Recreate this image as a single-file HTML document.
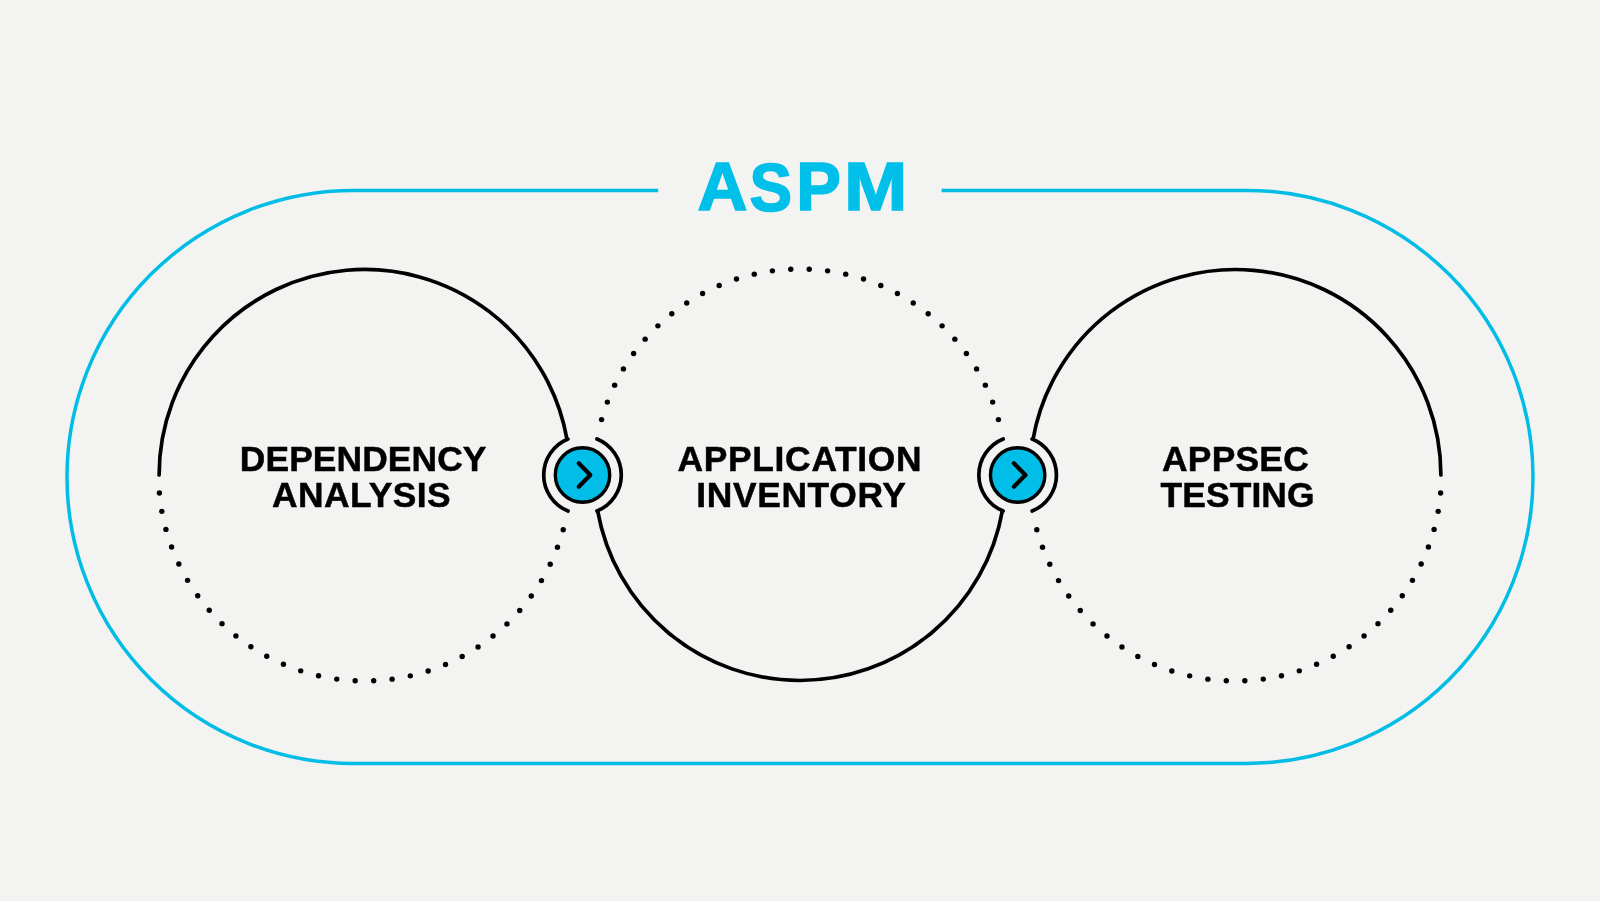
<!DOCTYPE html>
<html><head><meta charset="utf-8"><style>
html,body{margin:0;padding:0;background:#f3f3f1;}
body{width:1600px;height:901px;overflow:hidden;}
svg{display:block;will-change:transform;}
text{font-family:"Liberation Sans",sans-serif;font-weight:700;}
</style></head><body>
<svg width="1600" height="901" viewBox="0 0 1600 901">
<path d="M658.20,190.40 L353.50,190.40 A286.50,286.50 0 0 0 353.50,763.40 L1246.50,763.40 A286.50,286.50 0 0 0 1246.50,190.40 L941.60,190.40" fill="none" stroke="#00bde6" stroke-width="3.5" stroke-linecap="butt"/>
<path d="M159.10,475.00 A205.5,205.5 0 0 1 566.96,439.19 L568.03,439.00 A38.8,38.8 0 0 0 568.03,511.00" fill="none" stroke="#000" stroke-width="3.7" stroke-linecap="round" stroke-linejoin="round"/>
<path d="M596.97,439.00 A38.8,38.8 0 0 1 596.97,511.00 L597.66,510.88 A205.5,205.5 0 0 0 1002.35,510.85 L1003.18,511.00 A38.8,38.8 0 0 1 1003.18,439.00" fill="none" stroke="#000" stroke-width="3.7" stroke-linecap="round" stroke-linejoin="round"/>
<path d="M1032.12,511.00 A38.8,38.8 0 0 0 1032.12,439.00 L1033.05,439.16 A205.5,205.5 0 0 1 1440.90,475.00" fill="none" stroke="#000" stroke-width="3.7" stroke-linecap="round" stroke-linejoin="round"/>
<g fill="#000"><circle cx="563.20" cy="529.70" r="2.7"/><circle cx="557.49" cy="547.30" r="2.7"/><circle cx="550.23" cy="564.32" r="2.7"/><circle cx="541.46" cy="580.62" r="2.7"/><circle cx="531.27" cy="596.06" r="2.7"/><circle cx="519.74" cy="610.53" r="2.7"/><circle cx="506.95" cy="623.90" r="2.7"/><circle cx="493.02" cy="636.07" r="2.7"/><circle cx="478.05" cy="646.95" r="2.7"/><circle cx="462.16" cy="656.43" r="2.7"/><circle cx="445.49" cy="664.46" r="2.7"/><circle cx="428.16" cy="670.95" r="2.7"/><circle cx="410.32" cy="675.86" r="2.7"/><circle cx="392.12" cy="679.15" r="2.7"/><circle cx="373.69" cy="680.80" r="2.7"/><circle cx="355.18" cy="680.78" r="2.7"/><circle cx="336.76" cy="679.11" r="2.7"/><circle cx="318.55" cy="675.79" r="2.7"/><circle cx="300.72" cy="670.85" r="2.7"/><circle cx="283.41" cy="664.32" r="2.7"/><circle cx="266.75" cy="656.28" r="2.7"/><circle cx="250.88" cy="646.76" r="2.7"/><circle cx="235.92" cy="635.87" r="2.7"/><circle cx="222.01" cy="623.67" r="2.7"/><circle cx="209.24" cy="610.28" r="2.7"/><circle cx="197.73" cy="595.79" r="2.7"/><circle cx="187.57" cy="580.33" r="2.7"/><circle cx="178.83" cy="564.02" r="2.7"/><circle cx="171.59" cy="546.99" r="2.7"/><circle cx="165.91" cy="529.39" r="2.7"/><circle cx="161.83" cy="511.34" r="2.7"/><circle cx="159.39" cy="493.00" r="2.7"/><circle cx="998.41" cy="419.60" r="2.7"/><circle cx="992.66" cy="402.08" r="2.7"/><circle cx="985.37" cy="385.14" r="2.7"/><circle cx="976.59" cy="368.92" r="2.7"/><circle cx="966.39" cy="353.56" r="2.7"/><circle cx="954.87" cy="339.16" r="2.7"/><circle cx="942.10" cy="325.85" r="2.7"/><circle cx="928.19" cy="313.74" r="2.7"/><circle cx="913.25" cy="302.93" r="2.7"/><circle cx="897.41" cy="293.49" r="2.7"/><circle cx="880.79" cy="285.50" r="2.7"/><circle cx="863.52" cy="279.04" r="2.7"/><circle cx="845.74" cy="274.14" r="2.7"/><circle cx="827.59" cy="270.86" r="2.7"/><circle cx="809.22" cy="269.21" r="2.7"/><circle cx="790.78" cy="269.21" r="2.7"/><circle cx="772.41" cy="270.86" r="2.7"/><circle cx="754.26" cy="274.14" r="2.7"/><circle cx="736.48" cy="279.04" r="2.7"/><circle cx="719.21" cy="285.50" r="2.7"/><circle cx="702.59" cy="293.49" r="2.7"/><circle cx="686.75" cy="302.93" r="2.7"/><circle cx="671.81" cy="313.74" r="2.7"/><circle cx="657.90" cy="325.85" r="2.7"/><circle cx="645.13" cy="339.16" r="2.7"/><circle cx="633.61" cy="353.56" r="2.7"/><circle cx="623.41" cy="368.92" r="2.7"/><circle cx="614.63" cy="385.14" r="2.7"/><circle cx="607.34" cy="402.08" r="2.7"/><circle cx="601.59" cy="419.60" r="2.7"/><circle cx="1036.80" cy="529.70" r="2.7"/><circle cx="1042.51" cy="547.30" r="2.7"/><circle cx="1049.77" cy="564.32" r="2.7"/><circle cx="1058.54" cy="580.62" r="2.7"/><circle cx="1068.73" cy="596.06" r="2.7"/><circle cx="1080.26" cy="610.53" r="2.7"/><circle cx="1093.05" cy="623.90" r="2.7"/><circle cx="1106.98" cy="636.07" r="2.7"/><circle cx="1121.95" cy="646.95" r="2.7"/><circle cx="1137.84" cy="656.43" r="2.7"/><circle cx="1154.51" cy="664.46" r="2.7"/><circle cx="1171.84" cy="670.95" r="2.7"/><circle cx="1189.68" cy="675.86" r="2.7"/><circle cx="1207.88" cy="679.15" r="2.7"/><circle cx="1226.31" cy="680.80" r="2.7"/><circle cx="1244.82" cy="680.78" r="2.7"/><circle cx="1263.24" cy="679.11" r="2.7"/><circle cx="1281.45" cy="675.79" r="2.7"/><circle cx="1299.28" cy="670.85" r="2.7"/><circle cx="1316.59" cy="664.32" r="2.7"/><circle cx="1333.25" cy="656.28" r="2.7"/><circle cx="1349.12" cy="646.76" r="2.7"/><circle cx="1364.08" cy="635.87" r="2.7"/><circle cx="1377.99" cy="623.67" r="2.7"/><circle cx="1390.76" cy="610.28" r="2.7"/><circle cx="1402.27" cy="595.79" r="2.7"/><circle cx="1412.43" cy="580.33" r="2.7"/><circle cx="1421.17" cy="564.02" r="2.7"/><circle cx="1428.41" cy="546.99" r="2.7"/><circle cx="1434.09" cy="529.39" r="2.7"/><circle cx="1438.17" cy="511.34" r="2.7"/><circle cx="1440.61" cy="493.00" r="2.7"/></g>
<circle cx="582.50" cy="475.00" r="27.2" fill="#00bee8" stroke="#000" stroke-width="3.4"/>
<path d="M578.75,463.30 L590.30,475.00 L578.75,486.70" fill="none" stroke="#000" stroke-width="4.2" stroke-linecap="round" stroke-linejoin="round"/>
<circle cx="1017.65" cy="475.00" r="27.2" fill="#00bee8" stroke="#000" stroke-width="3.4"/>
<path d="M1013.90,463.30 L1025.45,475.00 L1013.90,486.70" fill="none" stroke="#000" stroke-width="4.2" stroke-linecap="round" stroke-linejoin="round"/>
<text transform="translate(697.5,210.3) scale(1.0172,1)" fill="#00bfe8" stroke="#00bfe8" stroke-width="1.6" font-size="68" letter-spacing="0">A</text>
<text transform="translate(749.5,211.0) scale(0.9384,1)" fill="#00bfe8" stroke="#00bfe8" stroke-width="1.6" font-size="68" letter-spacing="0">S</text>
<text transform="translate(796.2,210.3) scale(0.9854,1)" fill="#00bfe8" stroke="#00bfe8" stroke-width="1.6" font-size="68" letter-spacing="0">P</text>
<text transform="translate(843.9,210.3) scale(1.1184,1)" fill="#00bfe8" stroke="#00bfe8" stroke-width="1.6" font-size="68" letter-spacing="0">M</text>
<text transform="translate(239.8,471.0)" fill="#000" stroke="#000" stroke-width="0.5" font-size="35.4" letter-spacing="0.088">DEPENDENCY</text>
<text transform="translate(272.1,507.4)" fill="#000" stroke="#000" stroke-width="0.5" font-size="35.4" letter-spacing="0.4">ANALYSIS</text>
<text transform="translate(677.4,471.0)" fill="#000" stroke="#000" stroke-width="0.5" font-size="35.4" letter-spacing="0.7">APPLICATION</text>
<text transform="translate(696.2,507.4)" fill="#000" stroke="#000" stroke-width="0.5" font-size="35.4" letter-spacing="0.65">INVENTORY</text>
<text transform="translate(1162.0,471.0)" fill="#000" stroke="#000" stroke-width="0.5" font-size="35.4" letter-spacing="0.24">APPSEC</text>
<text transform="translate(1160.4,507.4)" fill="#000" stroke="#000" stroke-width="0.5" font-size="35.4" letter-spacing="0.133">TESTING</text>
</svg>
</body></html>
